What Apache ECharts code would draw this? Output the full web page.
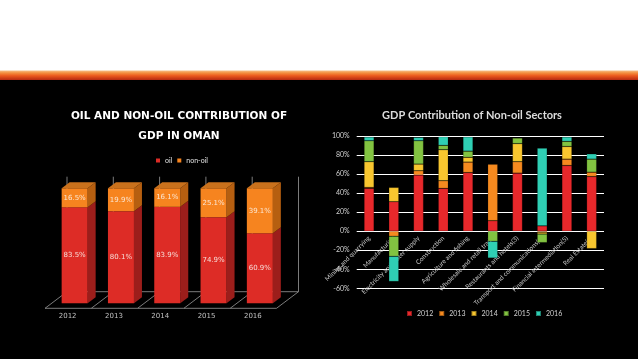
<!DOCTYPE html>
<html>
<head>
<meta charset="utf-8">
<script src="https://cdn.jsdelivr.net/npm/echarts@6/dist/echarts.min.js"></script>
<style>
html,body{margin:0;padding:0;background:#000;}
#c{width:638px;height:359px;}
</style>
</head>
<body>
<div id="c"></div>
<script>
// ---- Left chart data ----
const years = ['2012', '2013', '2014', '2015', '2016'];
const oil = [83.5, 80.1, 83.9, 74.9, 60.9];
const nonOil = [16.5, 19.9, 16.1, 25.1, 39.1];

// ---- Right chart data ----
const sectors = ['Mining and quarrying', 'Manufacturing', 'Electricity and water supply', 'Construction',
  'Agriculture and fishing', 'Wholesale and retail trade', 'Restaurants and hotels(3)',
  'Transport and communications(4)', 'Financial intermediation(5)', 'Real Estate(6)'];
const s2012 = [45, 31, 59, 45, 61.6, 11, 61, 5.6, 69, 57.4];
const s2013 = [1, -5.3, 4.5, 8, 11, 59.5, 12, -1, 6.7, 4.6];
const s2014 = [27, 15, 7, 32.6, 5, 0, 19, -2, 13.3, -18.3];
const s2015 = [22, -21.1, 24.5, 4.6, 6.5, -10.6, 6, -9, 5.4, 13.7];
const s2016 = [4, -26.4, 3.6, 9, 15, -17.6, 0, 81.7, 4.6, 5.6];
const yTicks = {min: -60, max: 100, interval: 20};

const chart = echarts.init(document.getElementById('c'));

const BW = 26, DX = 8, DY = -6;
const box3d = years.map((y, i) => [i, oil[i], oil[i] + nonOil[i]]);

const rc = {
  r: '#e8282b', o: '#f68a1f', y: '#f8c62f', g: '#82c341', t: '#2fcfb4'
};

function rightBar(name, data, color) {
  return {
    name: name, type: 'bar', xAxisIndex: 1, yAxisIndex: 1, stack: 'sec',
    barWidth: 10, data: data, z: 3,
    itemStyle: {color: color, borderColor: 'rgba(0,0,0,0.35)', borderWidth: 0.5}
  };
}

chart.setOption({
  backgroundColor: '#000',
  animation: false,
  graphic: [
    {type: 'rect', shape: {x: 0, y: 0, width: 638, height: 71}, style: {fill: '#ffffff'}, z: -10},
    {type: 'rect', shape: {x: 0, y: 70.5, width: 638, height: 9.5}, z: -10,
      style: {fill: new echarts.graphic.LinearGradient(0, 0, 0, 1, [
        {offset: 0, color: '#f6c08a'}, {offset: 0.25, color: '#f39040'},
        {offset: 0.55, color: '#ec5a1e'}, {offset: 1, color: '#b52a12'}])}}
  ],
  title: [
    {text: 'OIL AND NON-OIL CONTRIBUTION OF\nGDP IN OMAN', left: 174, top: 101, textAlign: 'center',
      textStyle: {color: '#ffffff', fontFamily: 'DejaVu Sans', fontWeight: 'bold', fontSize: 10.5, lineHeight: 20}},
    {text: 'GDP Contribution of Non-oil Sectors', left: 467, top: 105, textAlign: 'center',
      textStyle: {color: '#dcdcdc', fontFamily: 'Lato', fontWeight: 'bold', fontSize: 11}}
  ],
  legend: [
    {data: ['oil', 'non-oil'], left: 151, top: 152, itemWidth: 4, itemHeight: 4, itemGap: 5,
      icon: 'rect', textStyle: {color: '#e0e0e0', fontSize: 7, fontFamily: 'Lato'}},
    {data: ['2012', '2013', '2014', '2015', '2016'], left: 401, top: 305, itemWidth: 5, itemHeight: 5, itemGap: 5,
      icon: 'rect', textStyle: {color: '#d0d0d0', fontSize: 7, fontFamily: 'Lato'}}
  ],
  grid: [
    {left: 51.5, right: 355, top: 188.3, bottom: 55.7, outerBoundsMode: 'none', containLabel: false},
    {left: 356.7, right: 34, top: 136, bottom: 70.7, outerBoundsMode: 'none', containLabel: false}
  ],
  xAxis: [
    {gridIndex: 0, type: 'category', data: years, axisLine: {show: false}, axisTick: {show: false},
      axisLabel: {color: '#c0c0c0', fontSize: 7, fontFamily: 'DejaVu Sans', margin: 9, padding: [0, 14, 0, 0]}},
    {gridIndex: 1, type: 'category', data: sectors, axisTick: {show: false},
      axisLine: {show: false}, axisLabel: {show: false}}
  ],
  yAxis: [
    {gridIndex: 0, type: 'value', min: 0, max: 100, show: false},
    {gridIndex: 1, type: 'value', min: yTicks.min, max: yTicks.max, interval: yTicks.interval,
      axisLine: {show: false}, axisTick: {show: false},
      axisLabel: {formatter: '{value}%', color: '#d0d0d0', fontSize: 7, fontFamily: 'Lato', margin: 7},
      splitLine: {lineStyle: {color: '#ffffff', width: 1}}}
  ],
  series: [
    // 3D floor and back wall
    {type: 'custom', xAxisIndex: 0, yAxisIndex: 0, z: 1, silent: true,
      data: years.map((y, i) => [i]),
      renderItem: function (params, api) {
        const i = api.value(0);
        const c = api.coord([i, 0]);
        const top = api.coord([i, 100])[1];
        const bw = api.size([1, 0])[0];
        const by = c[1];
        const ls = {stroke: '#9a9a9a', lineWidth: 0.8};
        const children = [];
        const bounds = [c[0] - bw / 2];
        if (i === years.length - 1) bounds.push(c[0] + bw / 2);
        bounds.forEach(function (bx) {
          children.push({type: 'line', shape: {x1: bx - 6.5, y1: by + 5, x2: bx + 15.5, y2: by - 11.6}, style: ls});
          children.push({type: 'line', shape: {x1: bx + 15.5, y1: by - 11.6, x2: bx + 15.5, y2: top - 11.6}, style: ls});
        });
        const lx = c[0] - bw / 2;
        children.push({type: 'line', shape: {x1: lx - 6.5, y1: by + 5, x2: lx + bw - 6.5, y2: by + 5}, style: ls});
        children.push({type: 'line', shape: {x1: lx + 15.5, y1: by - 11.6, x2: lx + bw + 15.5, y2: by - 11.6}, style: ls});
        return {type: 'group', children: children};
      }},
    {name: 'oil', type: 'bar', xAxisIndex: 0, yAxisIndex: 0, stack: 'g', barWidth: BW, z: 3, data: oil,
      itemStyle: {color: '#dd2c26'},
      label: {show: true, position: 'inside', formatter: '{c}%', color: '#f6dcd6', fontSize: 7, fontFamily: 'DejaVu Sans'}},
    {name: 'non-oil', type: 'bar', xAxisIndex: 0, yAxisIndex: 0, stack: 'g', barWidth: BW, z: 3, data: nonOil,
      itemStyle: {color: '#f6841f'},
      label: {show: true, position: 'inside', formatter: '{c}%', color: '#fbe6d2', fontSize: 7, fontFamily: 'DejaVu Sans'}},
    // 3D side and top faces
    {type: 'custom', xAxisIndex: 0, yAxisIndex: 0, z: 3, silent: true, data: box3d,
      renderItem: function (params, api) {
        const i = api.value(0);
        const p0 = api.coord([i, 0]), p1 = api.coord([i, api.value(1)]), p2 = api.coord([i, api.value(2)]);
        const x0 = p0[0] - BW / 2, x1 = p0[0] + BW / 2;
        return {type: 'group', children: [
          {type: 'polygon', shape: {points: [[x1, p0[1]], [x1 + DX, p0[1] + DY], [x1 + DX, p1[1] + DY], [x1, p1[1]]]},
            style: {fill: '#9c1e1b'}},
          {type: 'polygon', shape: {points: [[x1, p1[1]], [x1 + DX, p1[1] + DY], [x1 + DX, p2[1] + DY], [x1, p2[1]]]},
            style: {fill: '#b65f10'}},
          {type: 'polygon', shape: {points: [[x0, p2[1]], [x0 + DX, p2[1] + DY], [x1 + DX, p2[1] + DY], [x1, p2[1]]]},
            style: {fill: '#c9711c'}}
        ]};
      }},
    // sector labels along the zero line
    {type: 'custom', xAxisIndex: 1, yAxisIndex: 1, z: 1, silent: true,
      data: sectors.map((s, i) => [i, 0]),
      renderItem: function (params, api) {
        const i = api.value(0);
        const c = api.coord([i, 0]);
        return {type: 'text', x: c[0], y: c[1] + 6, rotation: Math.PI / 4,
          style: {text: sectors[i], fill: '#c8c8c8', font: '6.5px Lato', align: 'right', verticalAlign: 'middle'}};
      }},
    rightBar('2012', s2012, rc.r),
    rightBar('2013', s2013, rc.o),
    rightBar('2014', s2014, rc.y),
    rightBar('2015', s2015, rc.g),
    rightBar('2016', s2016, rc.t)
  ]
});
</script>
</body>
</html>
